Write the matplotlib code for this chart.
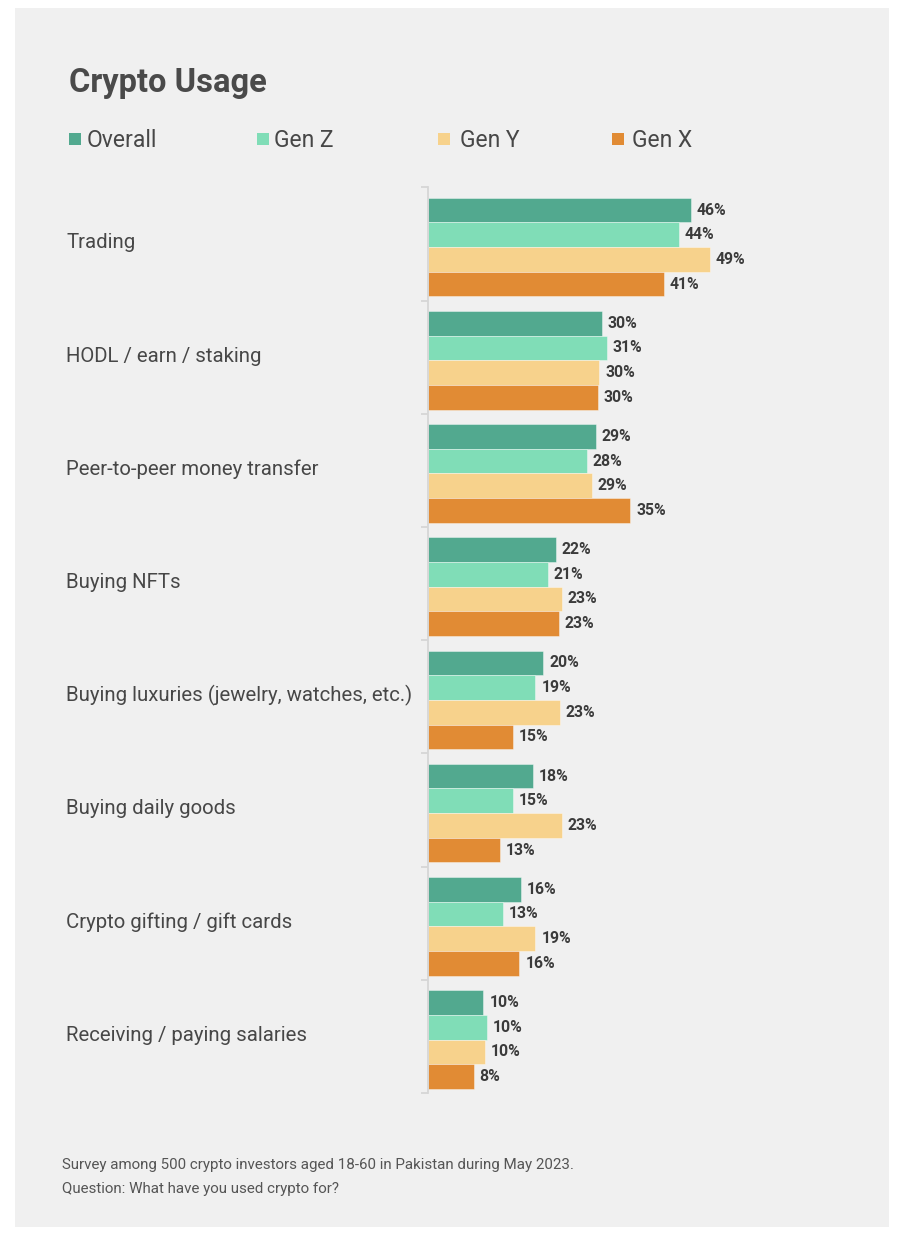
import matplotlib
matplotlib.use("Agg")
import matplotlib.pyplot as plt
from matplotlib.patches import Rectangle
import matplotlib.transforms as mtransforms

# ---------------- data ----------------
title = "Crypto Usage"
categories = [
    "Trading",
    "HODL / earn / staking",
    "Peer-to-peer money transfer",
    "Buying NFTs",
    "Buying luxuries (jewelry, watches, etc.)",
    "Buying daily goods",
    "Crypto gifting / gift cards",
    "Receiving / paying salaries",
]
series_names = ["Overall", "Gen Z", "Gen Y", "Gen X"]
overall = [46.0, 30.4, 29.4, 22.4, 20.2, 18.4, 16.3, 9.7]
gen_z = [43.9, 31.3, 27.8, 21.0, 18.8, 14.8, 13.1, 10.3]
gen_y = [49.3, 30.0, 28.7, 23.4, 23.1, 23.4, 18.8, 9.9]
gen_x = [41.3, 29.7, 35.4, 22.9, 14.9, 12.6, 16.0, 8.0]
footnote_lines = [
    "Survey among 500 crypto investors aged 18-60 in Pakistan during May 2023.",
    "Question: What have you used crypto for?",
]

colors = ["#52a98f", "#80ddb7", "#f7d28c", "#e18b34"]
text_color = "#474747"
label_color = "#3b3b3b"

plt.rcParams["font.family"] = ["Roboto", "DejaVu Sans"]

W, H = 900, 1234
fig = plt.figure(figsize=(W / 100, H / 100), dpi=100)
fig.patch.set_facecolor("white")

def fx(px):
    return px / W

def fy(py):
    return 1 - py / H

# gray panel
fig.patches.append(Rectangle((fx(15), fy(1227)), fx(889) - fx(15), fy(8) - fy(1227),
                             transform=fig.transFigure, facecolor="#f0f0f0",
                             edgecolor="none", zorder=-10))

# axes
ax_left, ax_right = 428, 828
ax_top, ax_bot = 187.3, 1093.0
ax = fig.add_axes([fx(ax_left), fy(ax_bot), fx(ax_right) - fx(ax_left), fy(ax_top) - fy(ax_bot)])
ax.set_zorder(5)
ax.set_facecolor("none")
px_per_pct = 5.71
ax.set_xlim(0, (ax_right - ax_left) / px_per_pct)
n = len(categories)
ax.set_ylim(n - 0.5, -0.5)

bar_h = 0.2178
group_top_off = -0.408
all_series = [overall, gen_z, gen_y, gen_x]
for k, vals in enumerate(all_series):
    ys = [i + group_top_off + bar_h * (k + 0.5) for i in range(n)]
    ax.barh(ys, vals, height=bar_h, color=colors[k],
            edgecolor=(1, 1, 1, 0.45), linewidth=0.6, zorder=2)
    for y, v in zip(ys, vals):
        ax.annotate(f"{v:.0f}%", xy=(v, y), xytext=(6, 0), textcoords="offset pixels",
                    ha="left", va="center", fontsize=11.3, fontweight="bold",
                    color=label_color, zorder=3, annotation_clip=False)

# spines / ticks
for s in ["top", "right", "bottom"]:
    ax.spines[s].set_visible(False)
ax.spines["left"].set_color("#d6d6d6")
ax.spines["left"].set_linewidth(1.3)
ax.set_xticks([])
ax.set_yticks([i - 0.5 for i in range(n + 1)])
ax.set_yticklabels([])
ax.tick_params(axis="y", length=5, width=1.3, color="#d6d6d6", direction="out")

# category labels
trans = mtransforms.blended_transform_factory(fig.transFigure, ax.transData)
for i, c in enumerate(categories):
    ax.text(fx(66.5), i + 0.04, c, transform=trans, ha="left", va="baseline",
            fontsize=14.7, color=text_color, clip_on=False)

# title
fig.text(fx(69), fy(92), title, ha="left", va="baseline", fontsize=23.5,
         fontweight="bold", color="#4a4a4a")

# legend
sq_x = [69, 256.5, 438, 612]
txt_x = [87, 274, 460, 631.5]
for k, name in enumerate(series_names):
    fig.patches.append(Rectangle((fx(sq_x[k]), fy(145)), fx(12), fy(133) - fy(145),
                                 transform=fig.transFigure, facecolor=colors[k],
                                 edgecolor="none", zorder=2))
    fig.text(fx(txt_x[k]), fy(147), name, ha="left", va="baseline", fontsize=16.5,
             color=text_color)

# footnote
for j, line in enumerate(footnote_lines):
    fig.text(fx(62.5), fy(1169 + 24 * j), line, ha="left", va="baseline",
             fontsize=10.9, color="#555555")

fig.savefig("out.png", dpi=100, facecolor=fig.get_facecolor())
